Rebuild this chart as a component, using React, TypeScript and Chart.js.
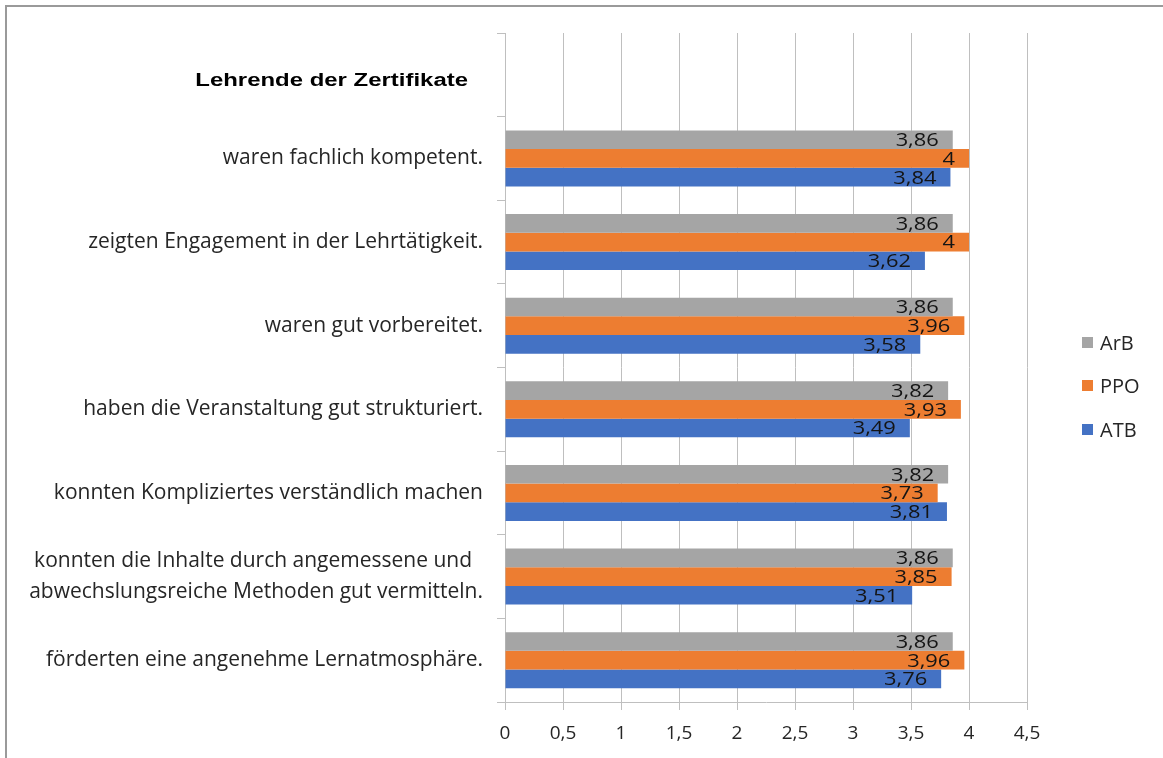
import React, { useEffect, useRef } from "react";
import { Chart, registerables } from "chart.js";

Chart.register(...registerables);

const titleText = "Lehrende der Zertifikate";

const categories: (string | string[])[] = [
  "",
  "waren fachlich kompetent.",
  "zeigten Engagement in der Lehrtätigkeit.",
  "waren gut vorbereitet.",
  "haben die Veranstaltung gut strukturiert.",
  "konnten Kompliziertes verständlich machen",
  ["konnten die Inhalte durch angemessene und  ", "abwechslungsreiche Methoden gut vermitteln."],
  "förderten eine angenehme Lernatmosphäre.",
];

const seriesNames = ["ArB", "PPO", "ATB"];
const arbValues: (number | null)[] = [null, 3.86, 3.86, 3.86, 3.82, 3.82, 3.86, 3.86];
const ppoValues: (number | null)[] = [null, 4, 4, 3.96, 3.93, 3.73, 3.85, 3.96];
const atbValues: (number | null)[] = [null, 3.84, 3.62, 3.58, 3.49, 3.81, 3.51, 3.76];
const seriesColors = ["#A5A5A5", "#ED7D31", "#4472C4"];

const xMin = 0;
const xMax = 4.5;
const xStep = 0.5;

const LABEL_FONT = "'Open Sans', sans-serif";

const fmt = (v: number) => String(v).replace(".", ",");

const dataLabelPlugin = {
  id: "dataLabels",
  afterDatasetsDraw(chart: any) {
    const ctx = chart.ctx;
    const sx = 1.15;
    chart.data.datasets.forEach((ds: any, di: number) => {
      const meta = chart.getDatasetMeta(di);
      meta.data.forEach((el: any, i: number) => {
        const v = ds.data[i];
        if (v === null || v === undefined) return;
        ctx.save();
        ctx.font = `19px ${LABEL_FONT}`;
        ctx.fillStyle = "#141414";
        ctx.textAlign = "right";
        ctx.textBaseline = "middle";
        ctx.translate(el.x - 14, el.y + 1);
        ctx.scale(sx, 1);
        ctx.fillText(fmt(v), 0, 0);
        ctx.restore();
      });
    });
  },
};

const titlePlugin = {
  id: "categoryTitle",
  afterDraw(chart: any) {
    const ctx = chart.ctx;
    const yScale = chart.scales.y;
    const y = yScale.getPixelForTick(0);
    ctx.save();
    ctx.font = "bold 18px 'Liberation Sans', Arial, sans-serif";
    ctx.fillStyle = "#000000";
    ctx.textAlign = "right";
    ctx.textBaseline = "middle";
    ctx.translate(468, y + 6);
    ctx.scale(1.33, 1);
    ctx.fillText(titleText, 0, 0);
    ctx.restore();
  },
};

export default function App() {
  const ref = useRef<HTMLCanvasElement | null>(null);

  useEffect(() => {
    if (!ref.current) return;
    const chart = new Chart(ref.current, {
      type: "bar",
      data: {
        labels: categories,
        datasets: [
          { label: seriesNames[0], data: arbValues, backgroundColor: seriesColors[0] },
          { label: seriesNames[1], data: ppoValues, backgroundColor: seriesColors[1] },
          { label: seriesNames[2], data: atbValues, backgroundColor: seriesColors[2] },
        ],
      },
      options: {
        indexAxis: "y",
        responsive: false,
        animation: false,
        events: [],
        layout: { padding: { top: 33, right: 136, left: 0, bottom: 0 } },
        datasets: {
          bar: { categoryPercentage: 0.67, barPercentage: 1.0, borderWidth: 0 },
        },
        plugins: {
          legend: { display: false },
          tooltip: { enabled: false },
          title: { display: false },
        },
        scales: {
          x: {
            min: xMin,
            max: xMax,
            ticks: {
              stepSize: xStep,
              color: "#262626",
              font: { family: LABEL_FONT, size: 19 },
              padding: 12,
              callback: (v: any) => fmt(Number(v)),
            },
            grid: {
              color: "#BFBFBF",
              lineWidth: 1,
              drawTicks: true,
              tickLength: 8,
            },
            border: { display: true, color: "#BFBFBF" },
            afterFit: (s: any) => {
              s.height = 758 - 702;
            },
          },
          y: {
            ticks: {
              color: "#262626",
              padding: 14,
              font: { family: LABEL_FONT, size: 21, lineHeight: 1.45 },
            },
            grid: {
              display: true,
              drawOnChartArea: false,
              drawTicks: true,
              tickLength: 8,
              color: "#BFBFBF",
              offset: true,
            },
            border: { display: true, color: "#BFBFBF" },
            afterFit: (s: any) => {
              s.width = 505;
            },
          },
        },
      },
      plugins: [dataLabelPlugin, titlePlugin],
    } as any);
    return () => chart.destroy();
  }, []);

  const legendItem = (name: string, color: string, top: number) => (
    <div
      key={name}
      style={{
        position: "absolute",
        left: 1082,
        top: top - 13,
        height: 26,
        display: "flex",
        alignItems: "center",
        fontFamily: LABEL_FONT,
        fontSize: 20,
        color: "#262626",
        whiteSpace: "nowrap",
      }}
    >
      <span style={{ display: "inline-block", width: 11, height: 11, background: color, marginRight: 7 }} />
      <span>{name}</span>
    </div>
  );

  return (
    <div style={{ position: "fixed", left: 0, top: 0, width: 1163, height: 758, background: "#fff", overflow: "hidden" }}>
      <div
        style={{
          position: "absolute",
          left: 5,
          top: 5,
          width: 1300,
          height: 900,
          borderLeft: "2px solid #9a9a9a",
          borderTop: "2px solid #9a9a9a",
        }}
      />
      <canvas ref={ref} width={1163} height={758} style={{ position: "absolute", left: 0, top: 0 }} />
      {legendItem(seriesNames[0], seriesColors[0], 342)}
      {legendItem(seriesNames[1], seriesColors[1], 385)}
      {legendItem(seriesNames[2], seriesColors[2], 429)}
    </div>
  );
}
